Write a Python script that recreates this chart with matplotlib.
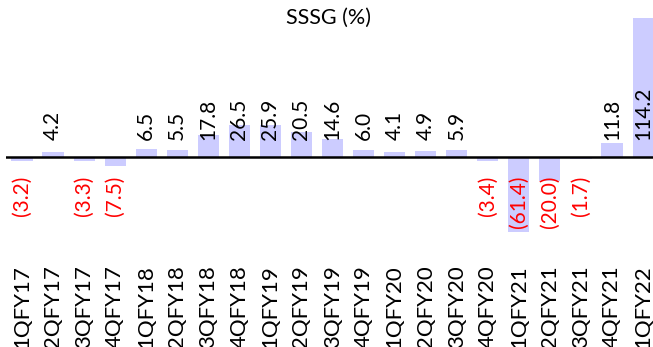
import matplotlib
matplotlib.use("Agg")
import matplotlib.pyplot as plt

# quarter labels and same store sales growth values (%)
quarters = ["1QFY17", "2QFY17", "3QFY17", "4QFY17", "1QFY18", "2QFY18",
            "3QFY18", "4QFY18", "1QFY19", "2QFY19", "3QFY19", "4QFY19",
            "1QFY20", "2QFY20", "3QFY20", "4QFY20", "1QFY21", "2QFY21",
            "3QFY21", "4QFY21", "1QFY22"]
sssg = [-3.2, 4.2, -3.3, -7.5, 6.5, 5.5, 17.8, 26.5, 25.9, 20.5, 14.6, 6.0,
        4.1, 4.9, 5.9, -3.4, -61.4, -20.0, -1.7, 11.8, 114.2]

plt.rcParams['font.family'] = ['Lato', 'DejaVu Sans']

fig = plt.figure(figsize=(6.53, 3.47), dpi=100)
ax = fig.add_axes([6 / 653, 97 / 347, 647 / 653, 240 / 347])

x = list(range(len(quarters)))
ax.bar(x, sssg, width=0.68, color="#CCCCFF", zorder=1)
ax.axhline(0, color="black", lw=1.8, zorder=2)

# data labels: positives sit above zero, negatives in red brackets below
for i, v in enumerate(sssg):
    if v >= 0:
        ax.text(i, 14, "%.1f" % v, rotation=90, ha="center", va="bottom",
                fontsize=15, color="black", zorder=3)
    else:
        ax.text(i, -15, "(%.1f)" % abs(v), rotation=90, ha="center", va="top",
                fontsize=15, color="red", zorder=3)

ax.set_xlim(-0.515, 20.32)
ax.set_ylim(-76.4, 120.8)
ax.set_xticks(x)
ax.set_xticklabels(quarters, rotation=90, fontsize=16)
ax.tick_params(axis="x", length=0, pad=11)
ax.set_yticks([])
for s in ax.spines.values():
    s.set_visible(False)

fig.text(329 / 653, 1 - 18 / 347, "SSSG (%)", ha="center", va="center", fontsize=15.5)

fig.savefig("out.png", dpi=100)
